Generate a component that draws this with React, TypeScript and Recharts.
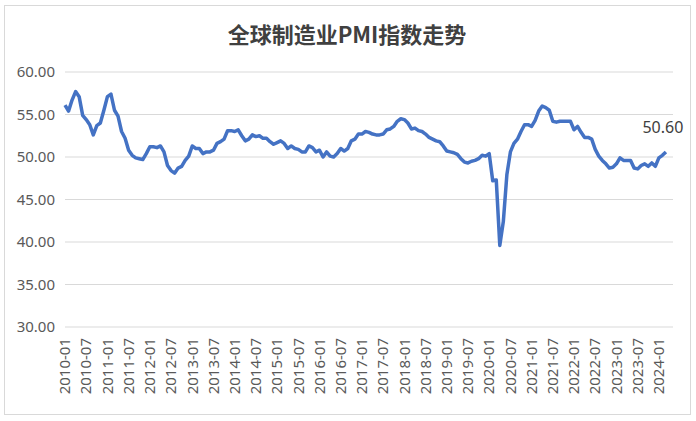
import React from "react";
import { LineChart, Line, XAxis, YAxis, CartesianGrid, LabelList } from "recharts";

const title = "全球制造业PMI指数走势";

// Monthly categories 2010-01 .. 2024-05 (axis runs two months past the last reading)
const startYear = 2010;
const monthCount = 173;
const months: string[] = Array.from({ length: monthCount }, (_, i) => {
  const y = startYear + Math.floor(i / 12);
  const m = (i % 12) + 1;
  return `${y}-${m < 10 ? "0" + m : m}`;
});

// Global manufacturing PMI, 2010-01 .. 2024-03
const pmi2010 = [56.1, 55.4, 56.7, 57.7, 57.1, 54.9, 54.4, 53.8, 52.6, 53.7, 54.0, 55.5];
const pmi2011 = [57.1, 57.4, 55.5, 54.8, 53.0, 52.2, 50.8, 50.2, 49.9, 49.8, 49.7, 50.4];
const pmi2012 = [51.2, 51.2, 51.1, 51.3, 50.6, 49.0, 48.4, 48.1, 48.7, 48.9, 49.6, 50.1];
const pmi2013 = [51.3, 51.0, 51.0, 50.4, 50.6, 50.6, 50.8, 51.6, 51.8, 52.1, 53.1, 53.1];
const pmi2014 = [53.0, 53.2, 52.5, 51.9, 52.1, 52.6, 52.4, 52.5, 52.2, 52.2, 51.8, 51.5];
const pmi2015 = [51.7, 51.9, 51.6, 51.0, 51.3, 51.0, 50.9, 50.6, 50.6, 51.3, 51.1, 50.6];
const pmi2016 = [50.8, 50.0, 50.6, 50.1, 50.0, 50.4, 51.0, 50.7, 51.0, 51.9, 52.1, 52.7];
const pmi2017 = [52.7, 53.0, 52.9, 52.7, 52.6, 52.6, 52.7, 53.2, 53.3, 53.6, 54.2, 54.5];
const pmi2018 = [54.4, 54.0, 53.3, 53.4, 53.1, 53.0, 52.7, 52.3, 52.1, 51.9, 51.8, 51.3];
const pmi2019 = [50.7, 50.6, 50.5, 50.3, 49.8, 49.4, 49.3, 49.5, 49.6, 49.8, 50.2, 50.1];
const pmi2020 = [50.4, 47.2, 47.3, 39.6, 42.4, 47.9, 50.6, 51.6, 52.1, 53.0, 53.8, 53.8];
const pmi2021 = [53.6, 54.3, 55.4, 56.0, 55.8, 55.5, 54.2, 54.1, 54.2, 54.2, 54.2, 54.2];
const pmi2022 = [53.2, 53.6, 52.9, 52.3, 52.3, 52.1, 50.9, 50.1, 49.6, 49.2, 48.7, 48.8];
const pmi2023 = [49.2, 49.9, 49.6, 49.6, 49.6, 48.7, 48.6, 49.0, 49.2, 48.9, 49.3, 48.9];
const pmi2024 = [49.9, 50.2, 50.6];

const pmiValues: number[] = [
  ...pmi2010, ...pmi2011, ...pmi2012, ...pmi2013, ...pmi2014,
  ...pmi2015, ...pmi2016, ...pmi2017, ...pmi2018, ...pmi2019,
  ...pmi2020, ...pmi2021, ...pmi2022, ...pmi2023, ...pmi2024,
];

const yTicks = [30, 35, 40, 45, 50, 55, 60];

const data = months.map((month, i) => ({
  month,
  pmi: i < pmiValues.length ? pmiValues[i] : null,
}));

const lastIndex = pmiValues.length - 1;

const XTick = (props: any) => {
  const { x, y, payload } = props;
  const yy = y + 3;
  return (
    <text
      x={x}
      y={yy}
      transform={`rotate(-90 ${x} ${yy})`}
      textAnchor="end"
      dy="0.35em"
      fill="#595959"
      fontSize={15}
      fontFamily="'Noto Sans', sans-serif"
    >
      {payload.value}
    </text>
  );
};

const LastLabel = (props: any) => {
  const { x, y, index, value } = props;
  if (index !== lastIndex || value == null) return null;
  return (
    <text
      x={x - 3}
      y={y - 19}
      textAnchor="middle"
      fill="#404040"
      fontSize={16}
      fontFamily="'Noto Sans', sans-serif"
    >
      {Number(value).toFixed(2)}
    </text>
  );
};

export default function App() {
  return (
    <div style={{ position: "absolute", left: 0, top: 0, width: 696, height: 421, background: "#fff" }}>
      <div
        style={{
          position: "absolute",
          left: 4,
          top: 5,
          width: 685,
          height: 408,
          border: "1px solid #D9D9D9",
        }}
      />
      <div
        style={{
          position: "absolute",
          left: 0,
          top: 18,
          width: 694,
          textAlign: "center",
          fontFamily: "'Noto Sans CJK SC', sans-serif",
          fontWeight: 700,
          fontSize: 22,
          lineHeight: "30px",
          color: "#404040",
        }}
      >
        {title}
      </div>
      <div style={{ position: "absolute", left: 0, top: 0 }}>
        <LineChart width={696} height={421} data={data} margin={{ top: 72, right: 23, bottom: 0, left: 0 }}>
          <CartesianGrid vertical={false} stroke="#D9D9D9" strokeWidth={1} />
          <XAxis
            dataKey="month"
            type="category"
            interval={5}
            height={94}
            axisLine={false}
            tickLine={false}
            tick={<XTick />}
          />
          <YAxis
            type="number"
            domain={[30, 60]}
            ticks={yTicks}
            width={65}
            axisLine={false}
            tickLine={false}
            tickMargin={4}
            tickFormatter={(v: number) => v.toFixed(2)}
            tick={{ fill: "#595959", fontSize: 15, fontFamily: "'Noto Sans', sans-serif" }}
          />
          <Line
            type="linear"
            dataKey="pmi"
            stroke="#4472C4"
            strokeWidth={3.5}
            dot={false}
            strokeLinejoin="round"
            isAnimationActive={false}
          >
            <LabelList dataKey="pmi" content={<LastLabel />} />
          </Line>
        </LineChart>
      </div>
    </div>
  );
}
